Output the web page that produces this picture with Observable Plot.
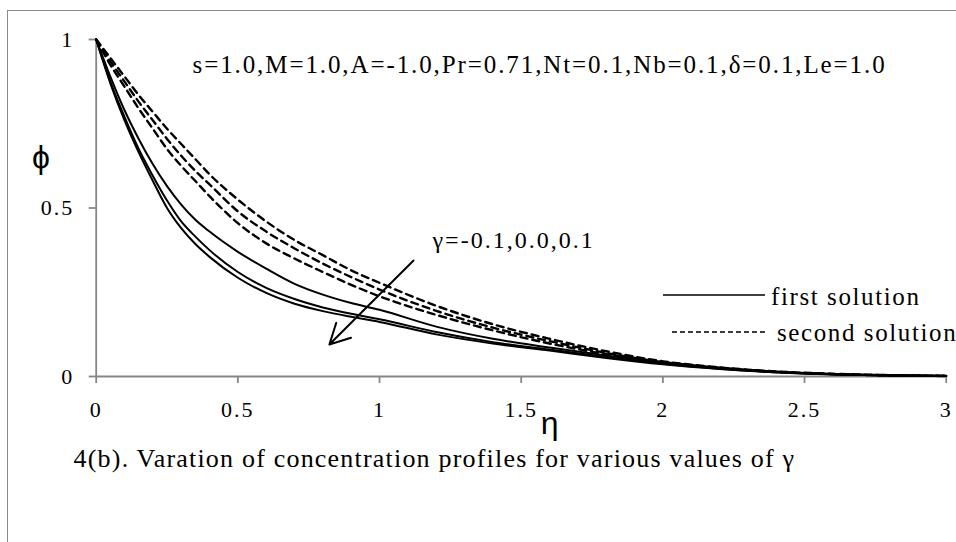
<!DOCTYPE html>
<html><head><meta charset="utf-8">
<script src="https://cdn.jsdelivr.net/npm/d3@7"></script>
<script src="https://cdn.jsdelivr.net/npm/@observablehq/plot@0.6"></script>
<style>
html,body{margin:0;padding:0;background:#fff;overflow:hidden;}
#wrap{position:relative;width:956px;height:542px;overflow:hidden;background:#fff;}
#wrap > svg{position:absolute;left:0;top:0;}
#frame{position:absolute;left:7px;top:10px;width:1100px;height:800px;border:1.5px solid #8a8a8a;box-sizing:border-box;pointer-events:none;}
#legend{position:absolute;left:0;top:0;pointer-events:none;}
</style></head><body>
<div id="wrap"><div id="frame"></div></div>
<script>
// ---- data ----
const eta = [0,0.05,0.1,0.15,0.2,0.25,0.3,0.35,0.4,0.5,0.6,0.7,0.8,0.9,1.0,1.2,1.4,1.6,1.8,2.0,2.2,2.4,2.6,2.8,3.0];
// first solution (solid), gamma = -0.1, 0.0, 0.1
const firstG1 = [1,0.89,0.79,0.705,0.63,0.565,0.51,0.465,0.43,0.37,0.32,0.275,0.243,0.218,0.198,0.148,0.112,0.086,0.062,0.041,0.025,0.014,0.007,0.003,0.0015];
const firstG2 = [1,0.875,0.77,0.675,0.595,0.522,0.46,0.415,0.375,0.31,0.263,0.23,0.205,0.186,0.17,0.132,0.102,0.08,0.058,0.038,0.023,0.013,0.007,0.003,0.0015];
const firstG3 = [1,0.87,0.76,0.665,0.58,0.5,0.44,0.393,0.355,0.293,0.248,0.216,0.194,0.177,0.162,0.125,0.098,0.077,0.055,0.036,0.022,0.012,0.006,0.003,0.0015];
// second solution (dashed), gamma = -0.1, 0.0, 0.1
const secondG1 = [1,0.945,0.89,0.835,0.785,0.735,0.69,0.645,0.6,0.525,0.46,0.405,0.36,0.315,0.278,0.21,0.155,0.112,0.075,0.045,0.027,0.015,0.008,0.004,0.002];
const secondG2 = [1,0.935,0.875,0.815,0.76,0.705,0.655,0.61,0.57,0.49,0.43,0.38,0.335,0.295,0.258,0.195,0.145,0.105,0.07,0.043,0.026,0.014,0.007,0.004,0.002];
const secondG3 = [1,0.925,0.86,0.795,0.735,0.675,0.625,0.58,0.535,0.455,0.395,0.35,0.31,0.272,0.238,0.183,0.137,0.098,0.066,0.041,0.025,0.013,0.007,0.003,0.0015];
const gammaValues = ["-0.1","0.0","0.1"];
const xTicks = [0,0.5,1,1.5,2,2.5,3];
const yTicks = [0,0.5,1];
const paramText = "s=1.0,M=1.0,A=-1.0,Pr=0.71,Nt=0.1,Nb=0.1,δ=0.1,Le=1.0";
const gammaText = "γ=-0.1,0.0,0.1";
const captionText = "4(b). Varation of concentration profiles for various values of γ";
const xLabel = "η";
const yLabel = "ϕ";
const legendLabels = ["first solution", "second solution"];
// annotation anchors in data units
const paramPos = {x: 0.34, y: 0.902};
const gammaPos = {x: 1.187, y: 0.38};
const captionPos = {x: -0.08, y: -0.27};
const xLabelPos = {x: 1.6, y: -0.17};
const yLabelPos = {x: -0.195, y: 0.62};
const arrowData = [{x1: 1.12, y1: 0.344, x2: 0.823, y2: 0.095}];

// ---- build tables ----
const toRows = (vals, g, sol) => eta.map((e, i) => ({eta: e, phi: vals[i], gamma: g, solution: sol}));
const firstRows = [firstG1, firstG2, firstG3].flatMap((v, k) => toRows(v, gammaValues[k], "first"));
const secondRows = [secondG1, secondG2, secondG3].flatMap((v, k) => toRows(v, gammaValues[k], "second"));

const gray = "#868686";
const fmt = d => String(d);
const plot = Plot.plot({
  width: 956, height: 542,
  marginLeft: 95.7, marginRight: 10.3, marginTop: 39, marginBottom: 166,
  x: {domain: [0, 3]},
  y: {domain: [0, 1]},
  style: {fontFamily: "Liberation Serif", fontSize: "22px", background: "transparent", overflow: "visible"},
  marks: [
    Plot.ruleY([0], {stroke: gray, strokeWidth: 1.8}),
    Plot.ruleX([0], {stroke: gray, strokeWidth: 1.8}),
    Plot.axisX(xTicks, {tickSize: 7, tickPadding: 18, tickFormat: fmt, stroke: gray, strokeWidth: 1.8, fill: "black", fontSize: 22}),
    Plot.axisY(yTicks, {tickSize: 7, tickPadding: 15, tickFormat: fmt, stroke: gray, strokeWidth: 1.8, fill: "black", fontSize: 22}),
    Plot.line(secondRows, {x: "eta", y: "phi", z: "gamma", stroke: "black", strokeWidth: 2.4, strokeDasharray: "7,5", curve: "monotone-x"}),
    Plot.line(firstRows, {x: "eta", y: "phi", z: "gamma", stroke: "black", strokeWidth: 2, curve: "monotone-x"}),
    Plot.arrow(arrowData, {x1: "x1", y1: "y1", x2: "x2", y2: "y2", stroke: "black", strokeWidth: 2, headLength: 17, headAngle: 55}),
    Plot.text([paramText], {x: paramPos.x, y: paramPos.y, text: d => d, textAnchor: "start", lineAnchor: "bottom", fontSize: 25, fill: "black"}),
    Plot.text([gammaText], {x: gammaPos.x, y: gammaPos.y, text: d => d, textAnchor: "start", lineAnchor: "bottom", fontSize: 24, fill: "black"}),
    Plot.text([captionText], {x: captionPos.x, y: captionPos.y, text: d => d, textAnchor: "start", lineAnchor: "bottom", fontSize: 26, fill: "black"}),
    Plot.text([xLabel], {x: xLabelPos.x, y: xLabelPos.y, text: d => d, textAnchor: "middle", lineAnchor: "bottom", fontSize: 32, fontFamily: "Liberation Sans", fill: "black"}),
    Plot.text([yLabel], {x: yLabelPos.x, y: yLabelPos.y, text: d => d, textAnchor: "middle", lineAnchor: "bottom", fontSize: 32, fontFamily: "Liberation Sans", fill: "black"})
  ]
});
const wrap = document.getElementById("wrap");
wrap.insertBefore(plot, wrap.firstChild);

// widen serif texts slightly (reference is horizontally stretched)
const spacing = new Map([[paramText, 1.9], [gammaText, 2], [captionText, 1.2]]);
d3.select(plot).selectAll("text").each(function() {
  const t = this.textContent;
  if (spacing.has(t)) d3.select(this).style("letter-spacing", spacing.get(t) + "px");
  else if (xTicks.map(fmt).includes(t)) d3.select(this).style("letter-spacing", "2px");
});

// legend overlay
const leg = d3.select(wrap).append("svg").attr("id", "legend").attr("width", 956).attr("height", 542);
const legendItems = [
  {label: legendLabels[0], x1: 663, x2: 765, y: 295, tx: 771, ty: 305, dash: null, w: 1.4},
  {label: legendLabels[1], x1: 672, x2: 765, y: 332, tx: 777, ty: 341, dash: "5,3", w: 1.3}
];
const gi = leg.selectAll("g").data(legendItems).join("g");
gi.append("line").attr("x1", d => d.x1).attr("x2", d => d.x2).attr("y1", d => d.y).attr("y2", d => d.y)
  .attr("stroke", "black").attr("stroke-width", d => d.w).attr("stroke-dasharray", d => d.dash);
gi.append("text").attr("x", d => d.tx).attr("y", d => d.ty).text(d => d.label)
  .attr("font-family", "Liberation Serif").attr("font-size", 25).style("letter-spacing", "1.6px");
</script>
</body></html>
